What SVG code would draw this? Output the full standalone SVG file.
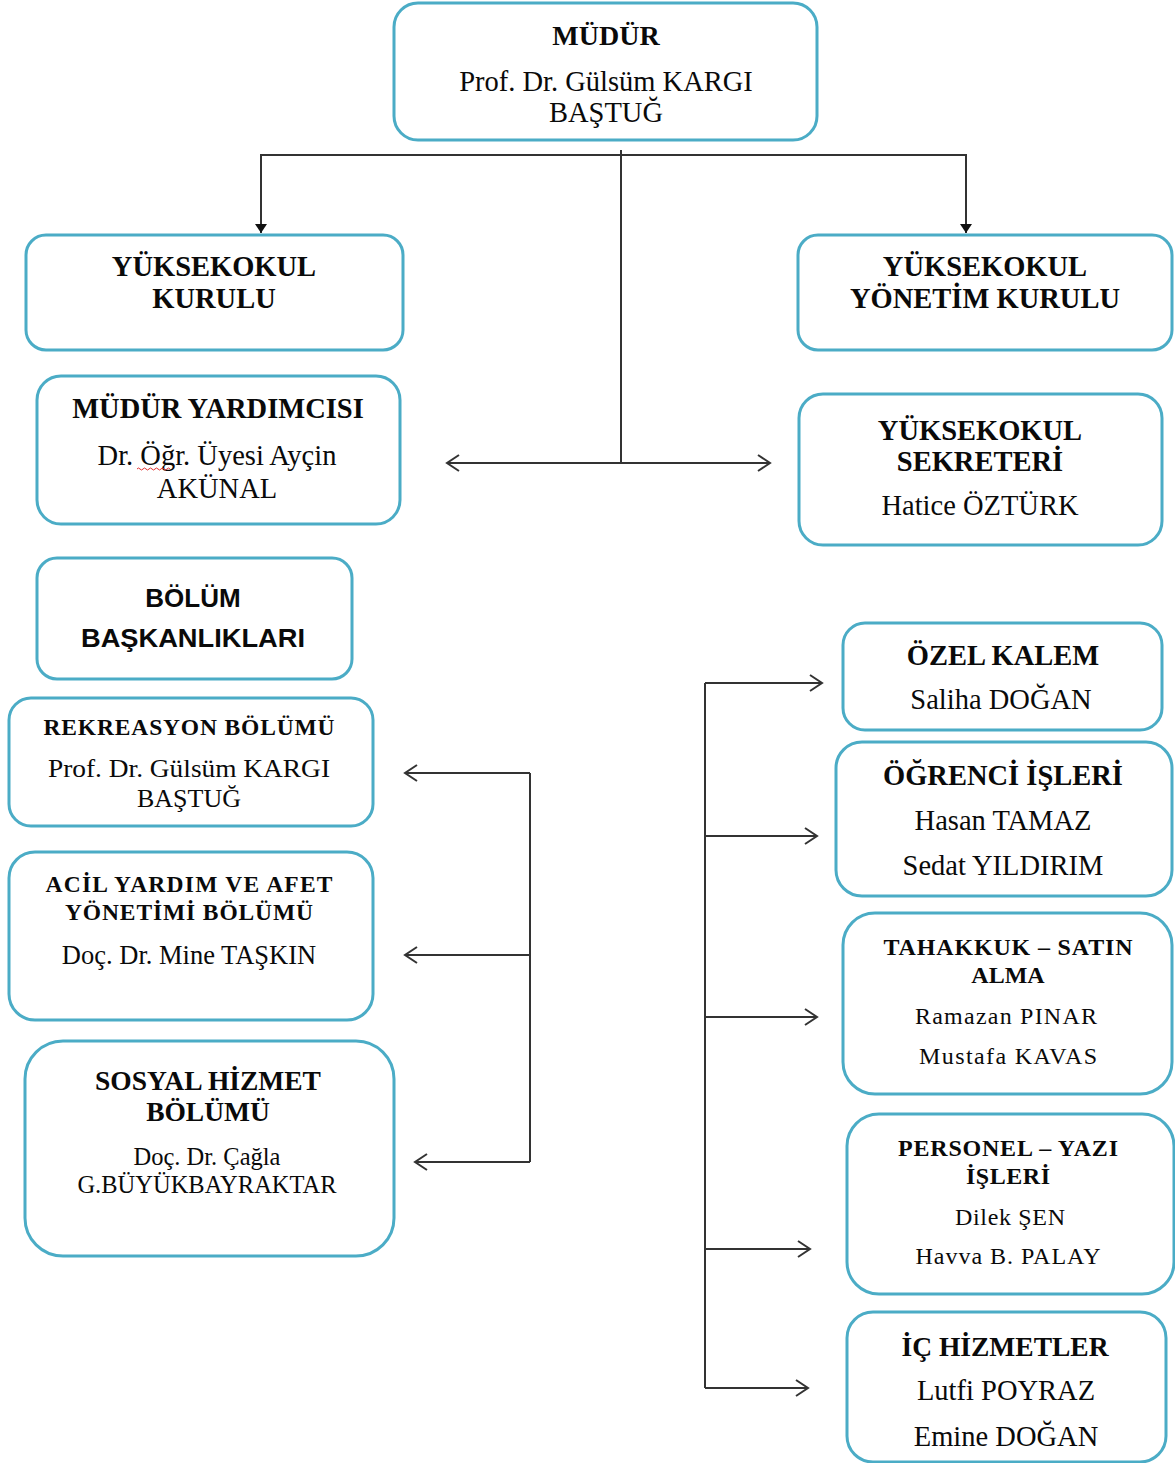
<svg xmlns="http://www.w3.org/2000/svg" width="1175" height="1463" viewBox="0 0 1175 1463">
<defs>
<style>
.box{fill:#fff;stroke:#4BACC6;stroke-width:3}
.b{font-family:"Liberation Serif","Times New Roman",serif;font-weight:bold;text-anchor:middle;fill:#0a0a0a}
.r{font-family:"Liberation Serif","Times New Roman",serif;text-anchor:middle;fill:#0a0a0a}
.s{font-family:"Liberation Sans",Arial,sans-serif;font-weight:bold;text-anchor:middle;fill:#0a0a0a}
.conn{stroke:#333;stroke-width:2;fill:none}
</style>
<marker id="open" markerWidth="16" markerHeight="20" refX="13" refY="9" orient="auto-start-reverse" markerUnits="userSpaceOnUse">
<path d="M1,1 L13,9 L1,17" fill="none" stroke="#333" stroke-width="2"/>
</marker>
<marker id="solid" markerWidth="12" markerHeight="12" refX="9" refY="6" orient="auto" markerUnits="userSpaceOnUse">
<path d="M0,0 L9,6 L0,12 z" fill="#111"/>
</marker>
</defs>
<rect width="1175" height="1463" fill="#fff"/>

<g id="connectors">
<line class="conn" x1="621" y1="150" x2="621" y2="463"/>
<polyline class="conn" points="261,233 261,155 966,155 966,233" marker-end="url(#solid)"/>
<line class="conn" x1="261" y1="155" x2="261" y2="233" marker-end="url(#solid)"/>
<line class="conn" x1="447" y1="463" x2="770" y2="463" marker-start="url(#open)" marker-end="url(#open)"/>
<line class="conn" x1="530" y1="773" x2="530" y2="1162"/>
<line class="conn" x1="530" y1="773" x2="405" y2="773" marker-end="url(#open)"/>
<line class="conn" x1="530" y1="955" x2="405" y2="955" marker-end="url(#open)"/>
<line class="conn" x1="530" y1="1162" x2="415" y2="1162" marker-end="url(#open)"/>
<line class="conn" x1="705" y1="683" x2="705" y2="1388"/>
<line class="conn" x1="705" y1="683" x2="822" y2="683" marker-end="url(#open)"/>
<line class="conn" x1="705" y1="836" x2="817" y2="836" marker-end="url(#open)"/>
<line class="conn" x1="705" y1="1017" x2="817" y2="1017" marker-end="url(#open)"/>
<line class="conn" x1="705" y1="1249" x2="810" y2="1249" marker-end="url(#open)"/>
<line class="conn" x1="705" y1="1388" x2="808" y2="1388" marker-end="url(#open)"/>
</g>

<g id="mudur">
<rect class="box" x="394" y="3" width="423" height="137" rx="24"/>
<text class="b" x="606" y="45" font-size="28">MÜDÜR</text>
<text class="r" x="606" y="91" font-size="28.5">Prof. Dr. Gülsüm KARGI</text>
<text class="r" x="606" y="122" font-size="28.5">BAŞTUĞ</text>
</g>

<g id="yuksekokul-kurulu">
<rect class="box" x="26" y="235" width="377" height="115" rx="20"/>
<text class="b" x="214" y="276" font-size="28.5">YÜKSEKOKUL</text>
<text class="b" x="214" y="308" font-size="28.5">KURULU</text>
</g>

<g id="yonetim-kurulu">
<rect class="box" x="798" y="235" width="374" height="115" rx="20"/>
<text class="b" x="985" y="276" font-size="28.5">YÜKSEKOKUL</text>
<text class="b" x="985" y="308" font-size="28.5">YÖNETİM KURULU</text>
</g>

<g id="mudur-yardimcisi">
<rect class="box" x="37" y="376" width="363" height="148" rx="24"/>
<text class="b" x="218" y="418" font-size="28.5">MÜDÜR YARDIMCISI</text>
<text class="r" x="217" y="465" font-size="28.5">Dr. Öğr. Üyesi Ayçin</text>
<text class="r" x="217" y="498" font-size="28.5">AKÜNAL</text>
<path d="M137,469 q1.5,-2 3,0 t3,0 t3,0 t3,0 t3,0 t3,0 t3,0 t3,0 t3,0 t3,0 t3,0" fill="none" stroke="#e03030" stroke-width="1"/>
</g>

<g id="sekreter">
<rect class="box" x="799" y="394" width="363" height="151" rx="24"/>
<text class="b" x="980" y="440" font-size="28.5">YÜKSEKOKUL</text>
<text class="b" x="980" y="471" font-size="28.5">SEKRETERİ</text>
<text class="r" x="980" y="515" font-size="28.5">Hatice ÖZTÜRK</text>
</g>

<g id="bolum-baskanliklari">
<rect class="box" x="37" y="558" width="315" height="121" rx="20"/>
<text class="s" x="193" y="607" font-size="26">BÖLÜM</text>
<text class="s" x="193" y="647" font-size="26" textLength="224" lengthAdjust="spacingAndGlyphs">BAŞKANLIKLARI</text>
</g>

<g id="rekreasyon">
<rect class="box" x="9" y="698" width="364" height="128" rx="22"/>
<text class="b" x="189" y="735" font-size="23.5" textLength="291" lengthAdjust="spacing">REKREASYON BÖLÜMÜ</text>
<text class="r" x="189" y="777" font-size="26" textLength="282" lengthAdjust="spacingAndGlyphs">Prof. Dr. Gülsüm KARGI</text>
<text class="r" x="189" y="807" font-size="26">BAŞTUĞ</text>
</g>

<g id="acil-yardim">
<rect class="box" x="9" y="852" width="364" height="168" rx="26"/>
<text class="b" x="189" y="892" font-size="23.5" textLength="287" lengthAdjust="spacing">ACİL YARDIM VE AFET</text>
<text class="b" x="189" y="920" font-size="23.5" textLength="248" lengthAdjust="spacing">YÖNETİMİ BÖLÜMÜ</text>
<text class="r" x="189" y="964" font-size="26.5">Doç. Dr. Mine TAŞKIN</text>
</g>

<g id="sosyal-hizmet">
<rect class="box" x="25" y="1041" width="369" height="215" rx="38"/>
<text class="b" x="208" y="1090" font-size="27.5">SOSYAL HİZMET</text>
<text class="b" x="208" y="1121" font-size="27.5">BÖLÜMÜ</text>
<text class="r" x="207" y="1165" font-size="24.5">Doç. Dr. Çağla</text>
<text class="r" x="207" y="1193" font-size="24.5">G.BÜYÜKBAYRAKTAR</text>
</g>

<g id="ozel-kalem">
<rect class="box" x="843" y="623" width="319" height="107" rx="22"/>
<text class="b" x="1003" y="665" font-size="28.5">ÖZEL KALEM</text>
<text class="r" x="1001" y="709" font-size="28.5">Saliha DOĞAN</text>
</g>

<g id="ogrenci-isleri">
<rect class="box" x="836" y="742" width="336" height="154" rx="26"/>
<text class="b" x="1003" y="785" font-size="28.5">ÖĞRENCİ İŞLERİ</text>
<text class="r" x="1003" y="830" font-size="28.5">Hasan TAMAZ</text>
<text class="r" x="1003" y="875" font-size="28.5">Sedat YILDIRIM</text>
</g>

<g id="tahakkuk">
<rect class="box" x="843" y="913" width="329" height="181" rx="32"/>
<text class="b" x="1008" y="955" font-size="24" textLength="249" lengthAdjust="spacing">TAHAKKUK – SATIN</text>
<text class="b" x="1008" y="983" font-size="24">ALMA</text>
<text class="r" x="1006" y="1024" font-size="24" textLength="182" lengthAdjust="spacing">Ramazan PINAR</text>
<text class="r" x="1008" y="1064" font-size="24" textLength="178" lengthAdjust="spacing">Mustafa KAVAS</text>
</g>

<g id="personel">
<rect class="box" x="847" y="1114" width="327" height="180" rx="32"/>
<text class="b" x="1008" y="1156" font-size="24" textLength="220" lengthAdjust="spacing">PERSONEL – YAZI</text>
<text class="b" x="1008" y="1184" font-size="24" textLength="84" lengthAdjust="spacing">İŞLERİ</text>
<text class="r" x="1010" y="1225" font-size="24" textLength="110" lengthAdjust="spacing">Dilek ŞEN</text>
<text class="r" x="1008" y="1264" font-size="24" textLength="185" lengthAdjust="spacing">Havva B. PALAY</text>
</g>

<g id="ic-hizmetler">
<rect class="box" x="847" y="1312" width="319" height="150" rx="26"/>
<text class="b" x="1005" y="1356" font-size="27.5">İÇ HİZMETLER</text>
<text class="r" x="1006" y="1400" font-size="28.5">Lutfi POYRAZ</text>
<text class="r" x="1006" y="1446" font-size="28.5">Emine DOĞAN</text>
</g>
</svg>
